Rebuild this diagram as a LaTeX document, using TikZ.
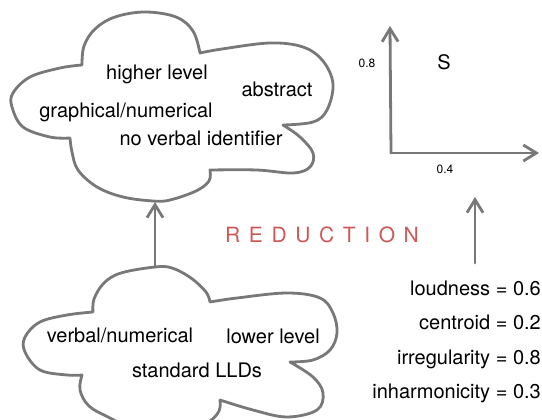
\documentclass[tikz,border=0pt]{standalone}
\usepackage{fontspec}
\setmainfont{TeX Gyre Heros}
\usetikzlibrary{arrows.meta}

\definecolor{linegray}{RGB}{120,120,120}
\definecolor{reductred}{RGB}{206,88,88}

\tikzset{
  stroke/.style={draw=linegray, line width=2.8pt, line cap=round, line join=round},
  lobe/.style={smooth, tension=0.6},
  cloudtext/.style={anchor=base, inner sep=0pt, font=\fontsize{20}{24}\selectfont},
  featuretext/.style={anchor=base east, inner sep=0pt, font=\fontsize{20}{24}\selectfont},
  ticktext/.style={inner sep=0pt, font=\fontsize{12}{14}\selectfont}
}

\begin{document}
\begin{tikzpicture}[x=1pt,y=-1pt,>={Straight Barb[length=13pt,width=16pt]}]
  \useasboundingbox (0,0) rectangle (542,420);

  % upper cloud (higher level)
  \draw[stroke] (82,65)
    -- plot[lobe] coordinates {(82,65) (84,46) (95,29) (115,17) (145,12) (176,17) (193,31) (200,53)}
    -- plot[lobe] coordinates {(200,53) (222,49) (270,43) (303,47) (323,61) (333,84) (327,110) (313,122) (283,125)}
    -- plot[lobe] coordinates {(283,125) (300,137) (313,153) (310,167) (293,173) (257,170) (210,170)}
    -- plot[lobe] coordinates {(210,170) (209,181) (196,191) (170,200) (153,201) (123,197) (97,187) (78,170) (72,152) (70,138)}
    -- plot[lobe] coordinates {(70,138) (50,137) (23,127) (12,107) (13,93) (30,77) (60,68) (82,65)}
    -- cycle;

  % lower cloud (lower level)
  \draw[stroke] (93,312)
    -- plot[lobe] coordinates {(93,312) (94,299) (104,283) (121,273) (155,267) (172,268) (191,278) (206,292) (210,302)}
    -- plot[lobe] coordinates {(210,302) (237,298) (287,293) (320,298) (333,313) (337,333) (330,350) (313,360) (290,362)}
    -- plot[lobe] coordinates {(290,362) (313,377) (323,393) (317,410) (287,417) (253,410) (220,400)}
    -- plot[lobe] coordinates {(220,400) (219,411) (208,422) (180,432) (140,432) (110,418) (89,406) (80,390) (82,375)}
    -- plot[lobe] coordinates {(82,375) (67,375) (40,370) (25,352) (25,337) (40,322) (67,315) (93,312)}
    -- cycle;

  \coordinate (lowtop)   at (155,267);
  \coordinate (highbase) at (155,202);
  \draw[stroke,->] (lowtop) -- (highbase);

  % texts in the clouds
  \node[cloudtext] (higher)  at (157,80)  {higher level};
  \node[cloudtext] (abstr)   at (277,97)  {abstract};
  \node[cloudtext] (graph)   at (126,118) {graphical/numerical};
  \node[cloudtext] (noverb)  at (201,146) {no verbal identifier};

  \node[cloudtext] (verbal)  at (120,342) {verbal/numerical};
  \node[cloudtext] (lower)   at (273,343) {lower level};
  \node[cloudtext] (lld)     at (197,377) {standard LLDs};

  \node[anchor=base west, inner sep=0pt, text=reductred,
        font=\fontsize{21}{24}\selectfont\addfontfeatures{LetterSpace=41}]
        (reduct) at (225,243) {REDUCTION};

  % feature space
  \coordinate (O)    at (391,153);
  \coordinate (ytip) at (390,26);
  \coordinate (xtip) at (539,153);
  \draw[stroke,->] (O) -- (ytip);
  \draw[stroke,->] (O) -- (xtip);

  \node[ticktext] (yval) at (367,63)  {0.8};
  \node[ticktext] (xval) at (445,169) {0.4};
  \node[inner sep=0pt, font=\fontsize{20}{24}\selectfont] (snd) at (444,62) {S};

  \coordinate (featbase) at (475,263);
  \coordinate (feattip)  at (475,197);
  \draw[stroke,->] (featbase) -- (feattip);

  % descriptor values
  \node[featuretext] (loud)  at (541,295) {loudness = 0.6};
  \node[featuretext] (cent)  at (541,330) {centroid = 0.2};
  \node[featuretext] (irreg) at (541,364) {irregularity = 0.8};
  \node[featuretext] (inharm) at (541,398) {inharmonicity = 0.3};
\end{tikzpicture}
\end{document}
